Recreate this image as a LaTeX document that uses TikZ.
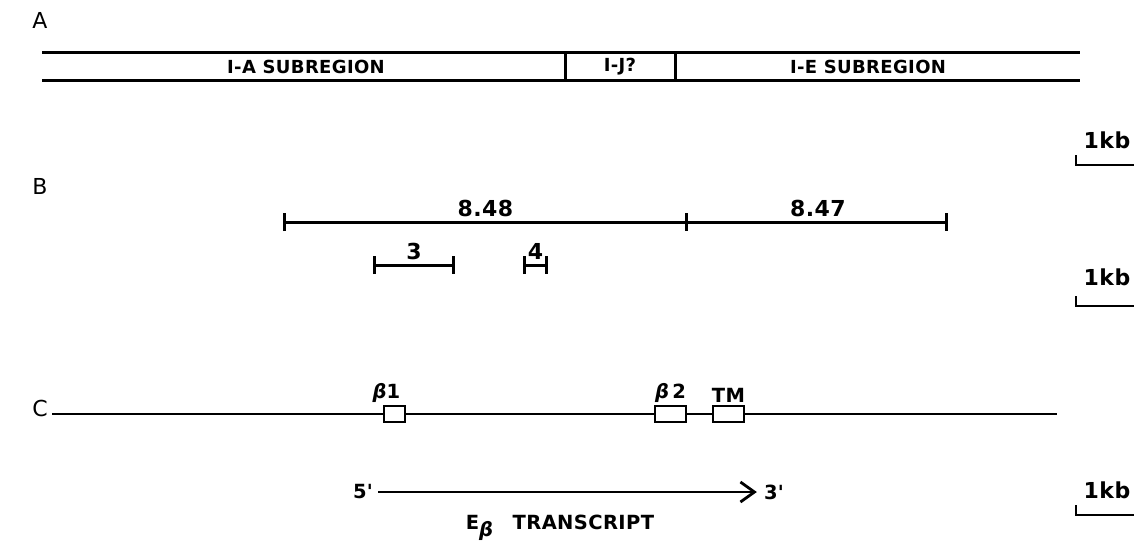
\documentclass[tikz,border=0pt]{standalone}
\usepackage{fontspec}
\setmainfont{DejaVu Sans}
\newfontfamily\lettering[LetterSpace=2]{DejaVu Sans Bold}
\newfontfamily\betafont{DejaVu Sans}
\newcommand{\bt}{{\betafont\bfseries\itshape β}}
\usetikzlibrary{arrows.meta,positioning}

\tikzset{
  lbl/.style={font=\lettering\fontsize{19.5}{21}\selectfont, inner sep=1pt},
  bandlbl/.style={font=\lettering\fontsize{18}{20}\selectfont, inner sep=1pt},
  numlbl/.style={font=\lettering\fontsize{22}{24}\selectfont, inner sep=1pt},
  panel/.style={font=\fontsize{22}{24}\selectfont, inner sep=0pt},
  bar/.style={line width=3pt},
  span/.style={line width=3pt, {Bar[width=18pt,line width=3pt]}-{Bar[width=18pt,line width=3pt]}},
  spanr/.style={line width=3pt, -{Bar[width=18pt,line width=3pt]}},
  exon/.style={draw, line width=2.6pt, fill=white, minimum height=16pt, inner sep=0pt},
  scalebar/.style={line width=2.8pt}
}

\begin{document}
\begin{tikzpicture}[x=1pt,y=-1pt]
\useasboundingbox (0,0) rectangle (1134,554);

% Panel A - the I region
\node[panel] (pA) at (40,20) {A};
\coordinate (bandNW) at (42,52);
\coordinate (bandNE) at (1080,52);
\coordinate (bandSW) at (42,80);
\coordinate (bandSE) at (1080,80);
\coordinate (divAt) at (565,52);
\coordinate (divAb) at (565,80);
\coordinate (divEt) at (675,52);
\coordinate (divEb) at (675,80);
\draw[bar] (bandNW) -- (bandNE);
\draw[bar] (bandSW) -- (bandSE);
\draw[bar] (divAt) -- (divAb);
\draw[bar] (divEt) -- (divEb);
\node[bandlbl] (regA) at (306,67) {I-A SUBREGION};
\node[bandlbl] (regJ) at (620,67) {I-J?};
\node[bandlbl] (regE) at (868,67) {I-E SUBREGION};

% scale bar for A
\node[numlbl] (kbA) at (1107,140) {1kb};
\coordinate (kbAt) at (1076,155);
\coordinate (kbAe) at (1134,165);
\draw[scalebar] (kbAt) |- (kbAe);

% Panel B - cosmid clones
\node[panel] (pB) at (40,186) {B};
\coordinate (c1) at (283,222);
\coordinate (c2) at (688,222);
\coordinate (c3) at (948,222);
\draw[span] (c1) -- node[numlbl, above=3pt] (cosA) {8.48} (c2);
\draw[spanr] (c2) -- node[numlbl, above=3pt] (cosB) {8.47} (c3);
\coordinate (f3a) at (373,265);
\coordinate (f3b) at (455,265);
\coordinate (f4a) at (523,265);
\coordinate (f4b) at (548,265);
\draw[span] (f3a) -- node[numlbl, above=3pt] (frag3) {3} (f3b);
\draw[span] (f4a) -- node[numlbl, above=3pt] (frag4) {4} (f4b);

% scale bar for B
\node[numlbl] (kbB) at (1107,277) {1kb};
\coordinate (kbBt) at (1076,296);
\coordinate (kbBe) at (1134,306);
\draw[scalebar] (kbBt) |- (kbBe);

% Panel C - the E beta gene
\node[panel] (pC) at (40,408) {C};
\coordinate (dnaL) at (52,414);
\coordinate (dnaR) at (1057,414);
\draw[line width=2.4pt] (dnaL) -- (dnaR);
\node[exon, minimum width=21pt] (b1) at (394.5,414) {};
\node[exon, minimum width=31pt] (b2) at (670.5,414) {};
\node[exon, minimum width=31pt] (tm) at (728.5,414) {};
\node[lbl, above=1pt of b1, xshift=-8pt] (b1l) {\bt1};
\node[lbl, above=1pt of b2] (b2l) {\bt\,2};
\node[lbl, above=1pt of tm] (tml) {TM};

% transcript
\node[lbl] (five) at (363,492) {5'};
\node[lbl] (three) at (774,492) {3'};
\draw[line width=2.8pt, shorten <=4pt, shorten >=6pt, -{Straight Barb[length=14pt,width=20pt,line width=2.8pt]}] (five) -- (three);
\node[lbl] (trans) at (560,528) {E\raisebox{-7pt}{\bt}\quad TRANSCRIPT};

% scale bar for C
\node[numlbl] (kbC) at (1107,490) {1kb};
\coordinate (kbCt) at (1076,505);
\coordinate (kbCe) at (1134,515);
\draw[scalebar] (kbCt) |- (kbCe);
\end{tikzpicture}
\end{document}
